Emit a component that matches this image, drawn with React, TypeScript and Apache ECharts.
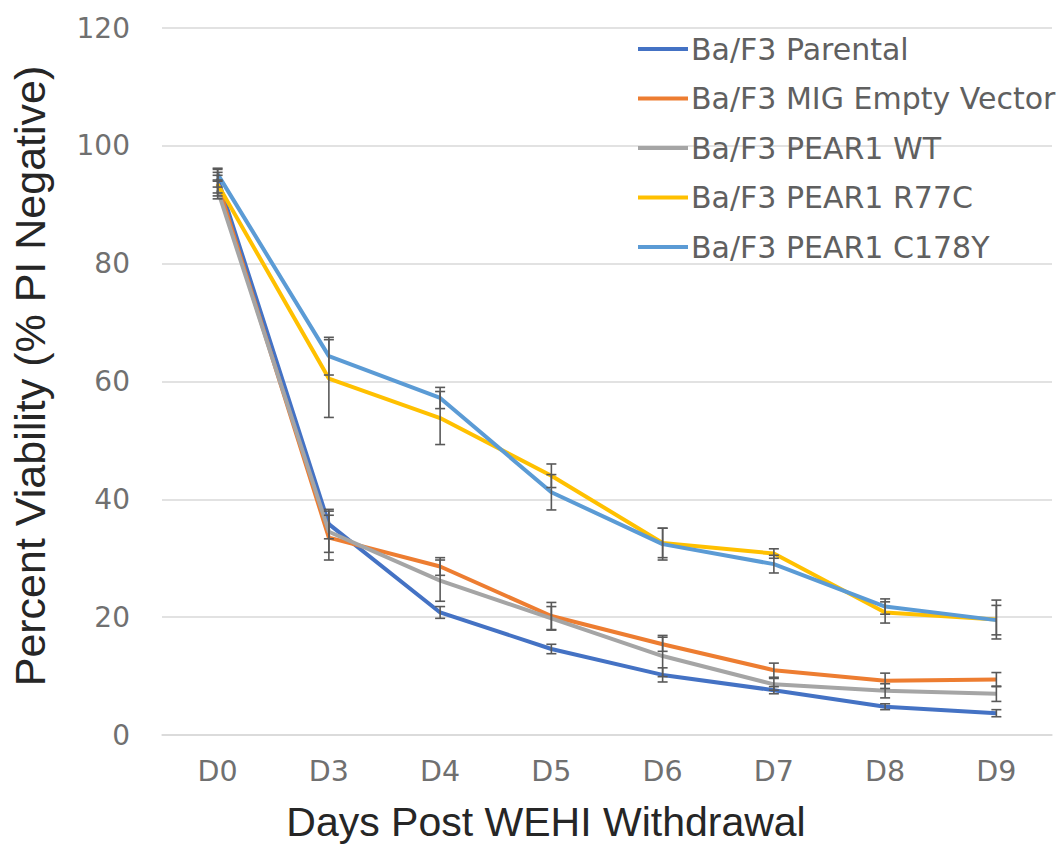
import React, { useEffect, useRef } from "react";
import * as echarts from "echarts";

const categories = ["D0", "D3", "D4", "D5", "D6", "D7", "D8", "D9"];
const seriesNames = [
  "Ba/F3 Parental",
  "Ba/F3 MIG Empty Vector",
  "Ba/F3 PEAR1 WT",
  "Ba/F3 PEAR1 R77C",
  "Ba/F3 PEAR1 C178Y",
];
const parental = [94.5, 35.8, 20.8, 14.6, 10.2, 7.6, 4.8, 3.7];
const emptyVector = [93.5, 33.5, 28.6, 20.2, 15.4, 11.0, 9.2, 9.4];
const pear1WT = [92.5, 34.5, 26.2, 19.8, 13.4, 8.6, 7.5, 7.0];
const pear1R77C = [93.5, 60.5, 53.8, 44.0, 32.6, 30.8, 20.8, 19.6];
const pear1C178Y = [95.2, 64.3, 57.2, 41.2, 32.4, 29.0, 21.8, 19.5];

const errParental = [1.5, 2.5, 1.0, 0.8, 1.2, 0.6, 0.5, 0.6];
const errEmptyVector = [1.5, 3.8, 1.5, 2.3, 1.2, 1.2, 1.3, 1.2];
const errPear1WT = [1.5, 3.5, 3.5, 2.0, 3.5, 1.0, 1.2, 1.3];
const errPear1R77C = [2.0, 6.6, 4.5, 2.0, 2.5, 0.8, 1.8, 3.3];
const errPear1C178Y = [1.0, 3.2, 1.8, 3.0, 2.7, 1.5, 1.3, 2.5];

const yTicks = { min: 0, max: 120, interval: 20 };
const xTitle = "Days Post WEHI Withdrawal";
const yTitle = "Percent Viability (% PI Negative)";

const colors = ["#4472C4", "#ED7D31", "#A5A5A5", "#FFC000", "#5B9BD5"];
const values = [parental, emptyVector, pear1WT, pear1R77C, pear1C178Y];
const errors = [errParental, errEmptyVector, errPear1WT, errPear1R77C, errPear1C178Y];

export default function App() {
  const ref = useRef<HTMLDivElement>(null);
  useEffect(() => {
    document.body.style.margin = "0";
    const chart = echarts.init(ref.current!, null, { renderer: "svg" });
    const lineSeries = seriesNames.map((name, i) => ({
      name,
      type: "line",
      data: values[i],
      symbol: "none",
      showSymbol: false,
      smooth: false,
      lineStyle: { color: colors[i], width: 4 },
      itemStyle: { color: colors[i] },
      z: 2 + i * 0.1,
    }));
    const errData: any[] = [];
    values.forEach((vals, i) => {
      vals.forEach((v, j) => {
        errData.push([j, v - errors[i][j], v + errors[i][j]]);
      });
    });
    const errSeries = {
      type: "custom",
      name: "errors",
      data: errData,
      z: 5,
      silent: true,
      encode: { x: 0, y: [1, 2] },
      renderItem: (params: any, api: any) => {
        const x = api.value(0);
        const lo = api.coord([x, api.value(1)]);
        const hi = api.coord([x, api.value(2)]);
        const hw = 5;
        const style = { stroke: "#595959", lineWidth: 1.6 };
        return {
          type: "group",
          children: [
            { type: "line", shape: { x1: lo[0], y1: lo[1], x2: hi[0], y2: hi[1] }, style },
            { type: "line", shape: { x1: lo[0] - hw, y1: lo[1], x2: lo[0] + hw, y2: lo[1] }, style },
            { type: "line", shape: { x1: hi[0] - hw, y1: hi[1], x2: hi[0] + hw, y2: hi[1] }, style },
          ],
        };
      },
    };
    chart.setOption({
      animation: false,
      backgroundColor: "#ffffff",
      grid: { left: 162, right: 12, top: 28, bottom: 111, containLabel: false },
      legend: {
        data: seriesNames,
        orient: "vertical",
        left: 633,
        top: 29,
        itemWidth: 50,
        itemHeight: 14,
        itemGap: 19.5,
        icon: "path://M0,5 L50,5 L50,9 L0,9 Z",
        textStyle: {
          fontFamily: "DejaVu Sans",
          fontSize: 30,
          color: "#606060",
          lineHeight: 30,
          padding: [0, 0, 0, -2],
        },
      },
      xAxis: {
        type: "category",
        data: categories,
        boundaryGap: true,
        axisLine: { show: true, lineStyle: { color: "#d9d9d9", width: 1.5 } },
        axisTick: { show: false },
        axisLabel: {
          margin: 22,
          fontFamily: "DejaVu Sans",
          fontSize: 28.5,
          color: "#707070",
        },
      },
      yAxis: {
        type: "value",
        min: yTicks.min,
        max: yTicks.max,
        interval: yTicks.interval,
        axisLine: { show: false },
        axisTick: { show: false },
        splitLine: { lineStyle: { color: "#d9d9d9", width: 1.5 } },
        axisLabel: {
          margin: 32,
          fontFamily: "DejaVu Sans",
          fontSize: 28,
          color: "#707070",
        },
      },
      graphic: [
        {
          type: "text",
          x: 546,
          y: 822,
          style: {
            text: xTitle,
            fontFamily: "Liberation Sans",
            fontSize: 41,
            fill: "#262626",
            textAlign: "center",
            textVerticalAlign: "middle",
          },
        },
        {
          type: "text",
          x: 30,
          y: 376,
          rotation: Math.PI / 2,
          style: {
            text: yTitle,
            fontFamily: "Liberation Sans",
            fontSize: 43,
            fill: "#262626",
            textAlign: "center",
            textVerticalAlign: "middle",
          },
        },
      ],
      series: [...lineSeries, errSeries],
    });
    return () => chart.dispose();
  }, []);
  return <div ref={ref} style={{ width: 1064, height: 846 }} />;
}
